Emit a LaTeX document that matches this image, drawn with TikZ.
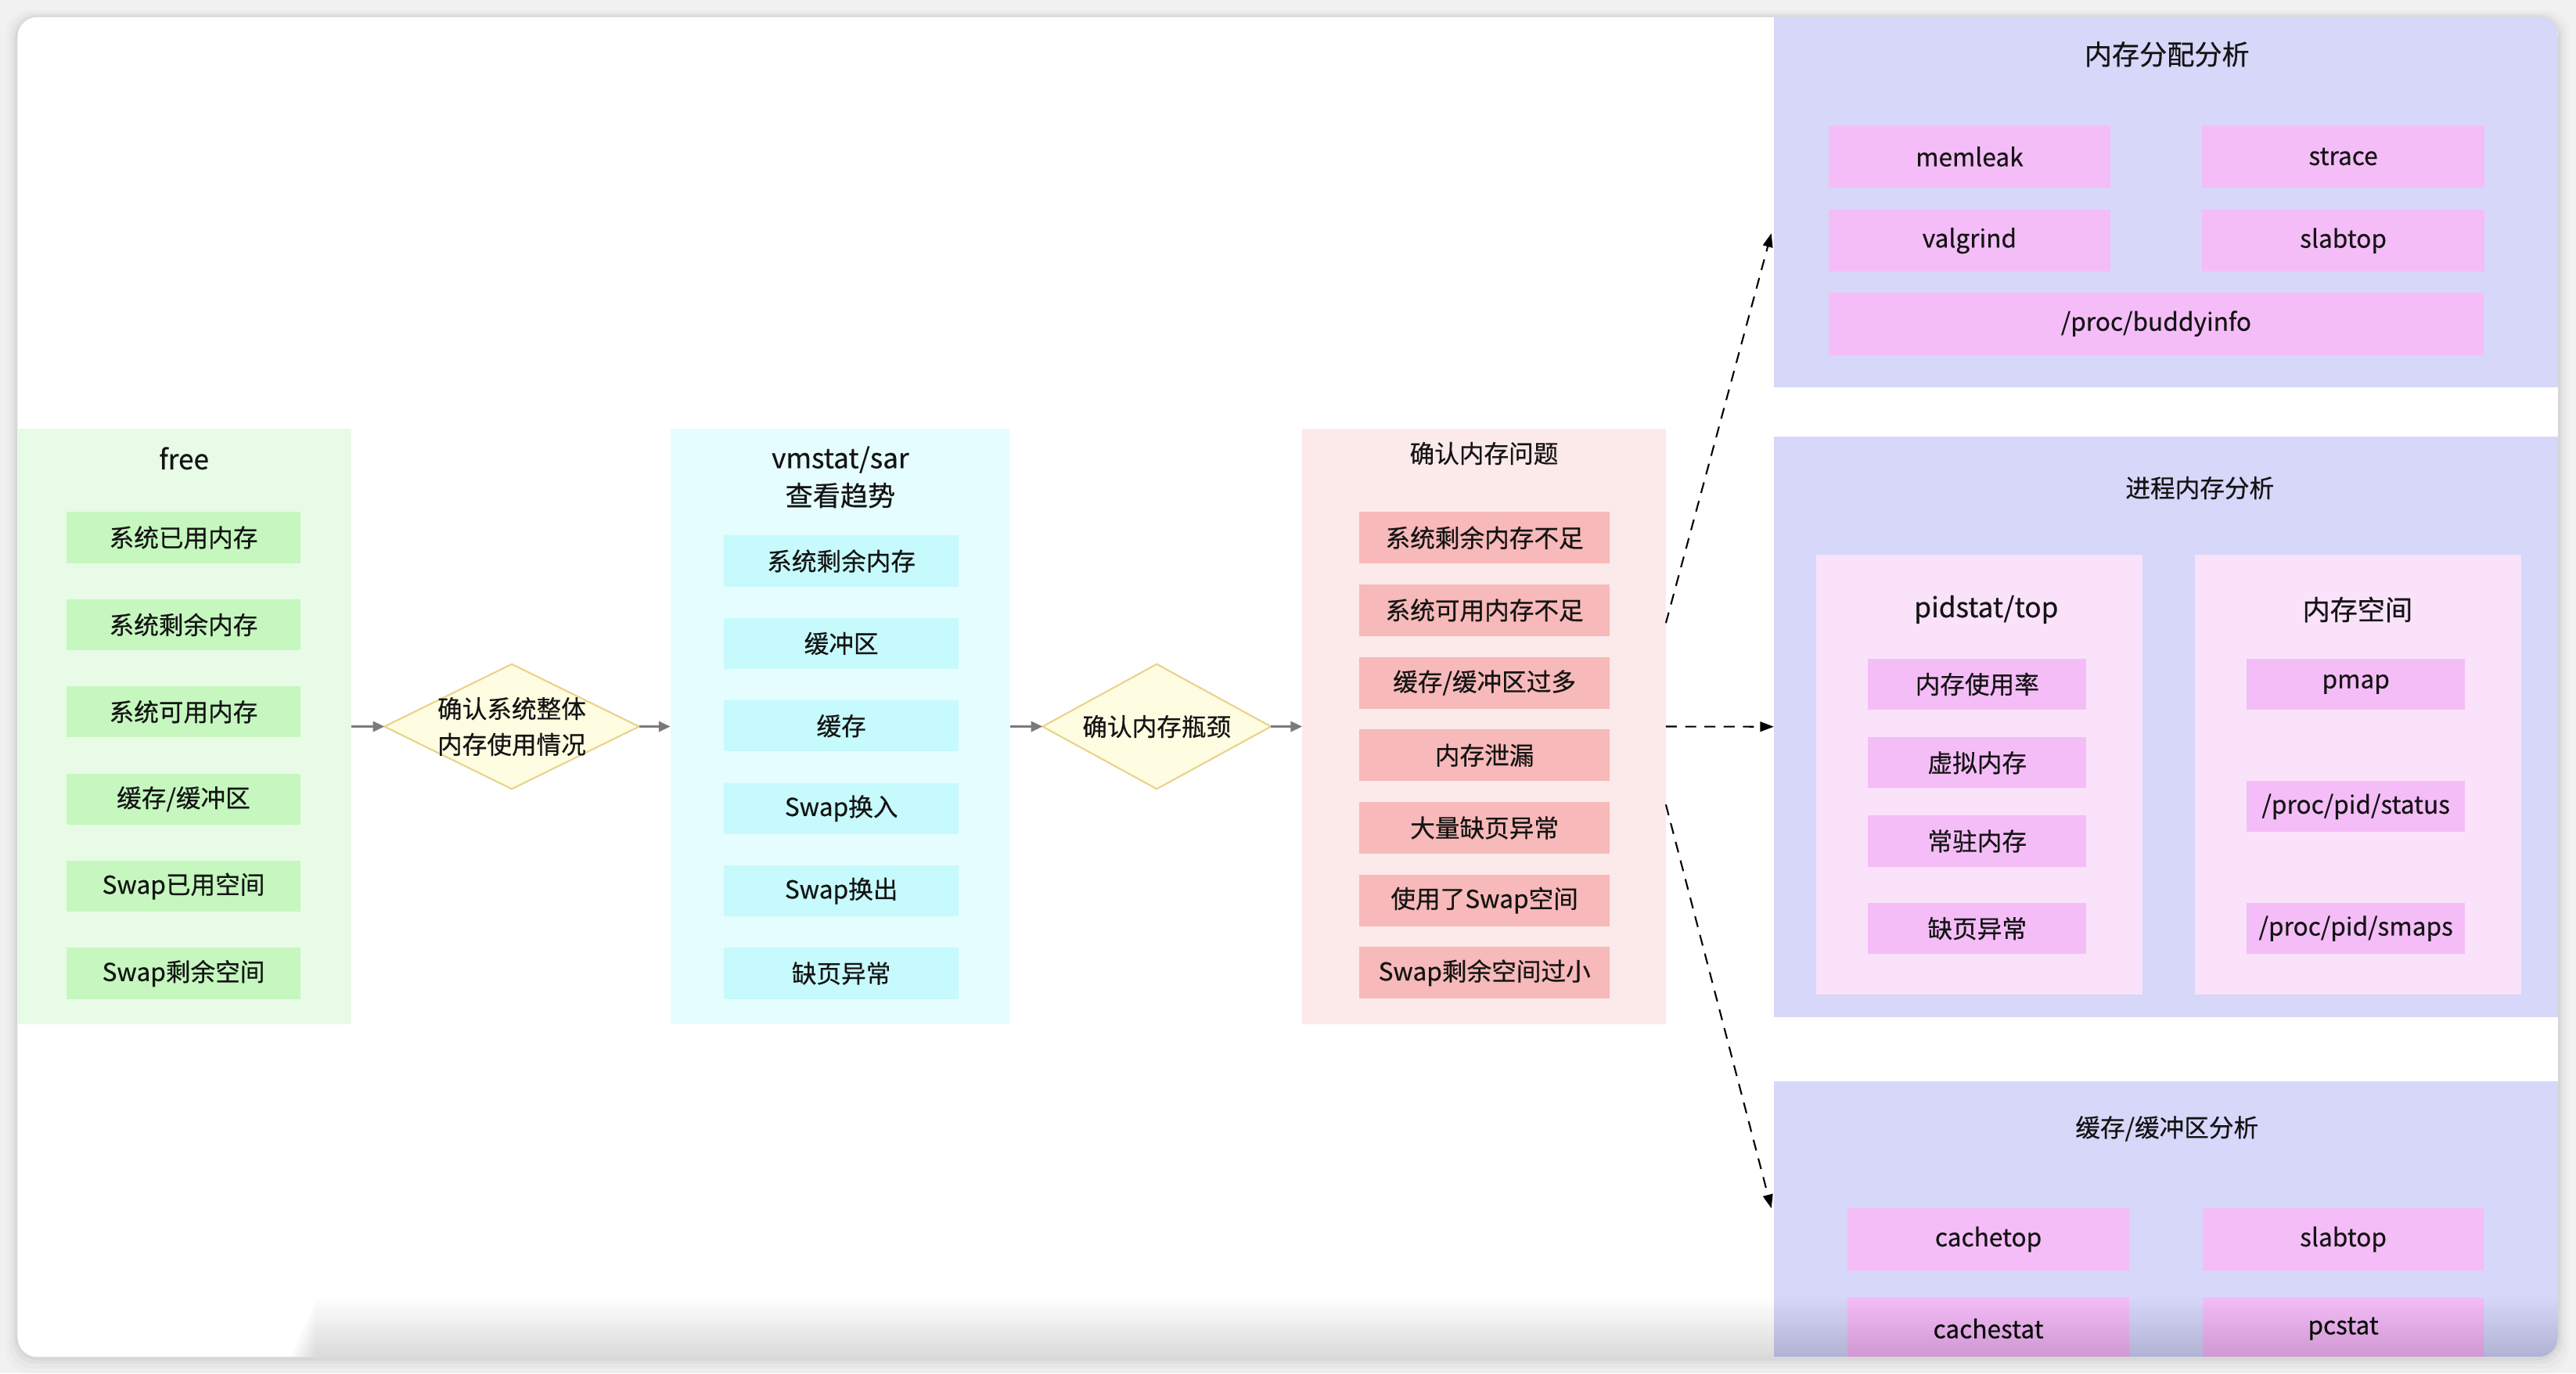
\documentclass[tikz,border=0pt]{standalone}
\usepackage{fontspec}
\setmainfont{Noto Sans CJK SC}[FakeBold=0.45]
\usetikzlibrary{shapes.geometric,arrows.meta,calc}
\newcommand\pxu{0.021cm}
\definecolor{cOut}{HTML}{F1F1F1}
\definecolor{cTxt}{HTML}{141414}
\definecolor{cGpanel}{HTML}{E8FBE7}
\definecolor{cGitem}{HTML}{C5F7BF}
\definecolor{cCpanel}{HTML}{E5FDFE}
\definecolor{cCitem}{HTML}{C6FAFC}
\definecolor{cRpanel}{HTML}{FCE9E9}
\definecolor{cRitem}{HTML}{F7B9B9}
\definecolor{cPpanel}{HTML}{D6D7F9}
\definecolor{cPitem}{HTML}{F5BDF8}
\definecolor{cPsub}{HTML}{F9E2FA}
\definecolor{cDfill}{HTML}{FEFCE1}
\definecolor{cDdraw}{HTML}{E9D38C}
\definecolor{cArrow}{HTML}{7A7A7A}
\begin{document}
\begin{tikzpicture}[x=0.021cm, y=-0.021cm,
  every node/.style={inner sep=0pt, outer sep=0pt, text=cTxt},
  sz/.style 2 args={minimum width=#1*\pxu, minimum height=#2*\pxu},
  panelbox/.style={rectangle, draw=none},
  tnine/.style={font=\fontsize{9}{13}\selectfont},
  tten/.style={font=\fontsize{10}{13.7}\selectfont, align=center},
  gitem/.style={panelbox, fill=cGitem, sz={142.6}{31}, tnine},
  citem/.style={panelbox, fill=cCitem, sz={143}{31}, tnine},
  ritem/.style={panelbox, fill=cRitem, sz={152.3}{31.4}, tnine},
  pitem/.style={panelbox, fill=cPitem, sz={171.6}{37.6}, tnine},
  qitem/.style={panelbox, fill=cPitem, sz={133}{31}, tnine},
  decide/.style={diamond, draw=cDdraw, fill=cDfill, line width=0.6pt, inner sep=0pt},
  grayarrow/.style={draw=cArrow, line width=0.7pt, -{Triangle[length=4.2pt,width=3.8pt]}},
  dasharrow/.style={draw=black, line width=0.6pt, dash pattern=on 4pt off 3pt, -{Triangle[length=5pt,width=3.6pt]}}
]
\useasboundingbox (0,0) rectangle (1568,836);
\fill[cOut] (0,0) rectangle (1568,836);
% card shadow
\foreach \e/\o in {7/0.015,5/0.02,3/0.03,1.5/0.04} {
  \fill[black, opacity=\o, rounded corners=0.3cm] ({10.7-\e},{10.4-\e*0.6}) rectangle ({1557+\e},{826+\e*1.4});
}
\fill[white, rounded corners=0.25cm] (10.7,10.4) rectangle (1557,826);
\begin{scope}
\clip[rounded corners=0.25cm] (10.7,10.4) rectangle (1557,826);
% panels
\node[panelbox, fill=cGpanel, sz={203.3}{362.5}] (free) at (112.35,442.25) {};
\node[panelbox, fill=cCpanel, sz={207}{362.5}] (vm) at (511.5,442.25) {};
\node[panelbox, fill=cRpanel, sz={221.4}{362.5}] (prob) at (903.3,442.25) {};
\node[panelbox, fill=cPpanel, sz={477.3}{225.2}] (alloc) at (1318.35,123) {};
\node[panelbox, fill=cPpanel, sz={477.3}{353.3}] (proc) at (1318.35,442.35) {};
\node[panelbox, fill=cPpanel, sz={477.3}{168}] (cache) at (1318.35,742.3) {};
\node[panelbox, fill=cPsub, sz={198.5}{268}] (pid) at (1204.75,471.55) {};
\node[panelbox, fill=cPsub, sz={198.7}{268}] (space) at (1435.35,471.55) {};
% titles
\node[tten] (freeT) at (112,279) {free};
\node[tten] (vmT) at (511.5,290.5) {vmstat/sar\\查看趋势};
\node[tnine] (probT) at (903.3,276) {确认内存问题};
\node[tten] (allocT) at (1319,33) {内存分配分析};
\node[tnine] (procT) at (1339,297) {进程内存分析};
\node[tten] (pidT) at (1209,371) {pidstat/top};
\node[tten] (spaceT) at (1435,371) {内存空间};
\node[tnine] (cacheT) at (1319,687) {缓存/缓冲区分析};
% green items
\foreach \t [count=\i] in {系统已用内存,系统剩余内存,系统可用内存,缓存/缓冲区,Swap已用空间,Swap剩余空间}
  \node[gitem] (g\i) at (111.7,{327.2+53.06*(\i-1)}) {\t};
% cyan items
\foreach \t [count=\i] in {系统剩余内存,缓冲区,缓存,Swap换入,Swap换出,缺页异常}
  \node[citem] (c\i) at (512.1,{341.5+50.2*(\i-1)}) {\t};
% red items
\foreach \t [count=\i] in {系统剩余内存不足,系统可用内存不足,缓存/缓冲区过多,内存泄漏,大量缺页异常,使用了Swap空间,Swap剩余空间过小}
  \node[ritem] (r\i) at (903.6,{327.3+44.15*(\i-1)}) {\t};
% allocation tools
\node[pitem] (memleak) at (1198.8,95.3) {memleak};
\node[pitem] (strace) at (1426.3,95.3) {strace};
\node[pitem] (valgrind) at (1198.8,146.5) {valgrind};
\node[pitem] (slabA) at (1426.3,146.5) {slabtop};
\node[pitem, sz={398.8}{38}] (buddy) at (1312.4,197) {/proc/buddyinfo};
% process items
\node[qitem] (q1) at (1203.5,416.5) {内存使用率};
\node[qitem] (q2) at (1203.5,464.3) {虚拟内存};
\node[qitem] (q3) at (1203.5,512) {常驻内存};
\node[qitem] (q4) at (1203.5,565.2) {缺页异常};
\node[qitem] (s1) at (1434,416.5) {pmap};
\node[qitem] (s2) at (1434,491) {/proc/pid/status};
\node[qitem] (s3) at (1434,565.2) {/proc/pid/smaps};
% cache tools
\node[pitem, sz={171.4}{37.8}] (cachetop) at (1210.3,754.4) {cachetop};
\node[pitem, sz={171.4}{37.8}] (slabB) at (1426.3,754.4) {slabtop};
\node[pitem, sz={171.4}{37.8}] (cachestat) at (1210.3,808.7) {cachestat};
\node[pitem, sz={171.4}{37.8}] (pcstat) at (1426.3,808.7) {pcstat};
% window shadow artifact at bottom: overlapping layers, darker towards the bottom
\foreach \k in {0,...,17}
  \fill[black, opacity=0.0075] ({192-\k*0.9},{790+2*\k}) rectangle (1560,830);
\end{scope}
% decisions
\node[decide, sz={155}{76}, label={[tnine, align=center, text=cTxt]center:确认系统整体\\内存使用情况}] (d1) at (311.5,442.25) {};
\node[decide, sz={139}{76}, label={[tnine, text=cTxt]center:确认内存瓶颈}] (d2) at (704.1,442.25) {};
% connectors
\draw[grayarrow] (free.east) -- (d1.west);
\draw[grayarrow] (d1.east) -- (vm.west);
\draw[grayarrow] (vm.east) -- (d2.west);
\draw[grayarrow] (d2.east) -- (prob.west);
\coordinate (up0) at ($(prob.east)+(0,-63)$);
\coordinate (up1) at ($(alloc.west)+(-1.5,19)$);
\coordinate (dn0) at ($(prob.east)+(0,47.5)$);
\coordinate (dn1) at ($(cache.west)+(-1.5,-6.8)$);
\draw[dasharrow] (up0) -- (up1);
\draw[dasharrow] (prob.east) -- (proc.west);
\draw[dasharrow] (dn0) -- (dn1);
\end{tikzpicture}
\end{document}
